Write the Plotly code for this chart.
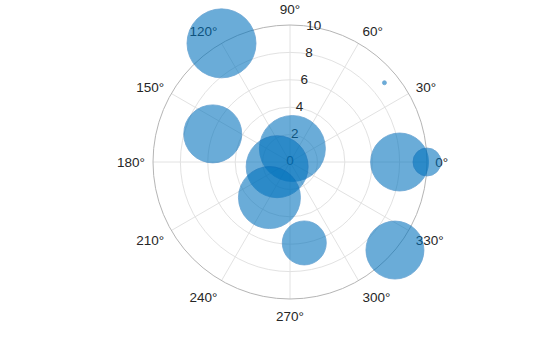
import plotly.graph_objects as go

# Data
theta_deg = [120, 40, 160, 80, 200, 240, 280, 320, 0, 0]
radius = [10, 9, 6, 1, 1, 3, 6, 10, 8, 10]
bubble_size = [69, 4, 58, 66, 62, 62, 44, 58, 58, 28]

angular_ticks = [0, 30, 60, 90, 120, 150, 180, 210, 240, 270, 300, 330]
angular_labels = [f"{a}°" for a in angular_ticks]
radial_ticks = [0, 2, 4, 6, 8, 10]
radial_label_angle = 80

fig = go.Figure()

# radial tick labels, centered on the 80° ray (drawn first so bubbles sit above)
fig.add_trace(go.Scatterpolar(
    r=radial_ticks,
    theta=[radial_label_angle] * len(radial_ticks),
    mode="text",
    text=[str(v) for v in radial_ticks],
    textposition="middle center",
    textfont=dict(family="Liberation Sans, Arial, sans-serif", size=13.5, color="#262626"),
    hoverinfo="skip",
))

fig.add_trace(go.Scatterpolar(
    r=radius,
    theta=theta_deg,
    mode="markers",
    marker=dict(
        size=bubble_size,
        sizemode="diameter",
        color="rgb(0,114,189)",
        opacity=0.58,
        line=dict(color="rgb(0,100,180)", width=0.8),
    ),
    hoverinfo="skip",
))

fig.update_layout(
    width=560, height=337,
    margin=dict(l=153, r=133, t=25, b=38),
    paper_bgcolor="white",
    showlegend=False,
    font=dict(family="Liberation Sans, Arial, sans-serif", size=13.5, color="#262626"),
    polar=dict(
        bgcolor="white",
        radialaxis=dict(
            range=[0, 10],
            tickvals=radial_ticks,
            showticklabels=False,
            angle=radial_label_angle,
            showline=False,
            ticks="",
            gridcolor="#e2e2e2",
            gridwidth=1,
            layer="below traces",
        ),
        angularaxis=dict(
            direction="counterclockwise",
            rotation=0,
            tickvals=angular_ticks,
            ticktext=angular_labels,
            showline=True,
            linecolor="#b5b5b5",
            linewidth=1,
            ticks="outside",
            ticklen=5,
            tickcolor="rgba(0,0,0,0)",
            gridcolor="#e2e2e2",
            gridwidth=1,
            tickfont=dict(size=13.5, color="#262626"),
            layer="below traces",
        ),
    ),
)

fig.write_html("out.html")
